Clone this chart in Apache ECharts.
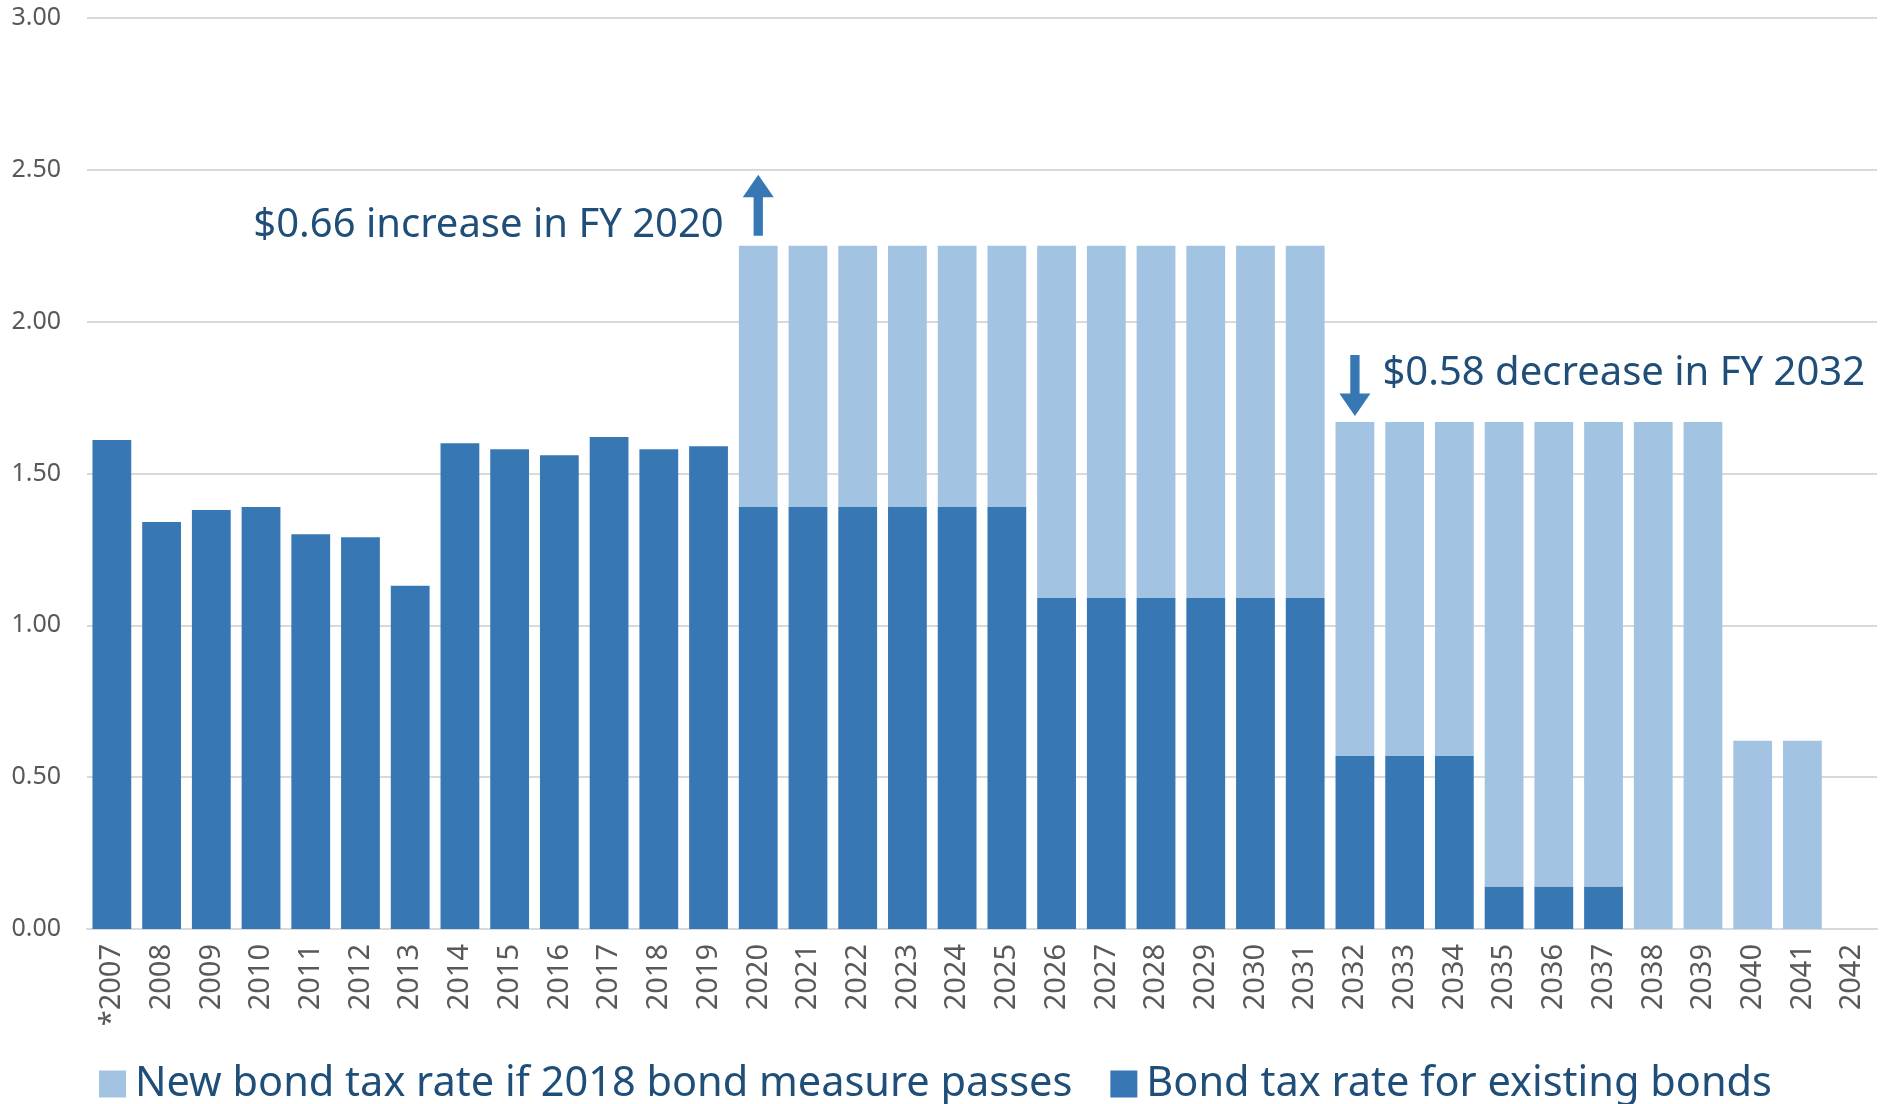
<!DOCTYPE html>
<html>
<head>
<meta charset="utf-8">
<script src="https://cdn.jsdelivr.net/npm/echarts@6/dist/echarts.min.js"></script>
<style>
html,body{margin:0;padding:0;background:#fff;}
#c{width:1887px;height:1104px;}
</style>
</head>
<body>
<div id="c"></div>
<script>
const years = ['*2007','2008','2009','2010','2011','2012','2013','2014','2015','2016','2017','2018','2019','2020','2021','2022','2023','2024','2025','2026','2027','2028','2029','2030','2031','2032','2033','2034','2035','2036','2037','2038','2039','2040','2041','2042'];
const existingBonds = [1.61,1.34,1.38,1.39,1.30,1.29,1.13,1.60,1.58,1.56,1.62,1.58,1.59,1.39,1.39,1.39,1.39,1.39,1.39,1.09,1.09,1.09,1.09,1.09,1.09,0.57,0.57,0.57,0.14,0.14,0.14,0,0,0,0,0];
const newBonds = [0,0,0,0,0,0,0,0,0,0,0,0,0,0.86,0.86,0.86,0.86,0.86,0.86,1.16,1.16,1.16,1.16,1.16,1.16,1.10,1.10,1.10,1.53,1.53,1.53,1.67,1.67,0.62,0.62,0];
const yTicks = [0,0.5,1,1.5,2,2.5,3];
const seriesNames = ['New bond tax rate if 2018 bond measure passes','Bond tax rate for existing bonds'];
const notes = ['$0.66 increase in FY 2020','$0.58 decrease in FY 2032'];

const textBlue = '#1F4E79';
const darkBlue = '#3677B4';
const lightBlue = '#A2C4E2';
const font = 'Noto Sans';

const upArrow = 'path://M10,0 L20,22 L13,22 L13,60 L7,60 L7,22 L0,22 Z';
const downArrow = 'path://M7,0 L13,0 L13,38 L20,38 L10,60 L0,38 L7,38 Z';

const chart = echarts.init(document.getElementById('c'), null, {renderer:'canvas'});
chart.setOption({
  animation:false,
  backgroundColor:'#fff',
  grid:{left:87,right:10,top:18,bottom:175,containLabel:false},
  legend:{
    data:seriesNames,
    left:94, top:1058,
    itemWidth:27, itemHeight:27, itemGap:38,
    icon:'rect',
    textStyle:{color:textBlue,fontSize:41.5,fontFamily:font,padding:[0,0,0,4]}
  },
  xAxis:{
    type:'category', data:years,
    axisTick:{show:false},
    axisLine:{lineStyle:{color:'#D9D9D9',width:2}},
    axisLabel:{rotate:90,color:'#595959',fontSize:29,fontFamily:font,margin:15,interval:0}
  },
  yAxis:{
    type:'value', min:0, max:3, interval:0.5,
    axisLabel:{formatter:v=>v.toFixed(2),color:'#595959',fontSize:25,fontFamily:font,margin:26},
    splitLine:{lineStyle:{color:'#D9D9D9',width:2}},
    axisLine:{show:false}, axisTick:{show:false}
  },
  series:[
    {
      name:seriesNames[1], type:'bar', stack:'t', data:existingBonds,
      barCategoryGap:'22%',
      itemStyle:{color:darkBlue},
      z:2
    },
    {
      name:seriesNames[0], type:'bar', stack:'t', data:newBonds,
      barCategoryGap:'22%',
      itemStyle:{color:lightBlue},
      z:2,
      markPoint:{
        silent:true,
        data:[
          {coord:['2020',2.383],symbol:upArrow,symbolSize:[31,61],itemStyle:{color:darkBlue},label:{show:false}},
          {coord:['2032',1.79],symbol:downArrow,symbolSize:[31,61],itemStyle:{color:darkBlue},label:{show:false}},
          {coord:['2020',2.315],symbol:'circle',symbolSize:1,itemStyle:{color:'rgba(0,0,0,0)'},
            label:{show:true,formatter:notes[0],position:'left',distance:34,color:textBlue,fontSize:40,fontFamily:font}},
          {coord:['2032',1.83],symbol:'circle',symbolSize:1,itemStyle:{color:'rgba(0,0,0,0)'},
            label:{show:true,formatter:notes[1],position:'right',distance:27,color:textBlue,fontSize:40,fontFamily:font}}
        ]
      }
    }
  ]
});
</script>
</body>
</html>
